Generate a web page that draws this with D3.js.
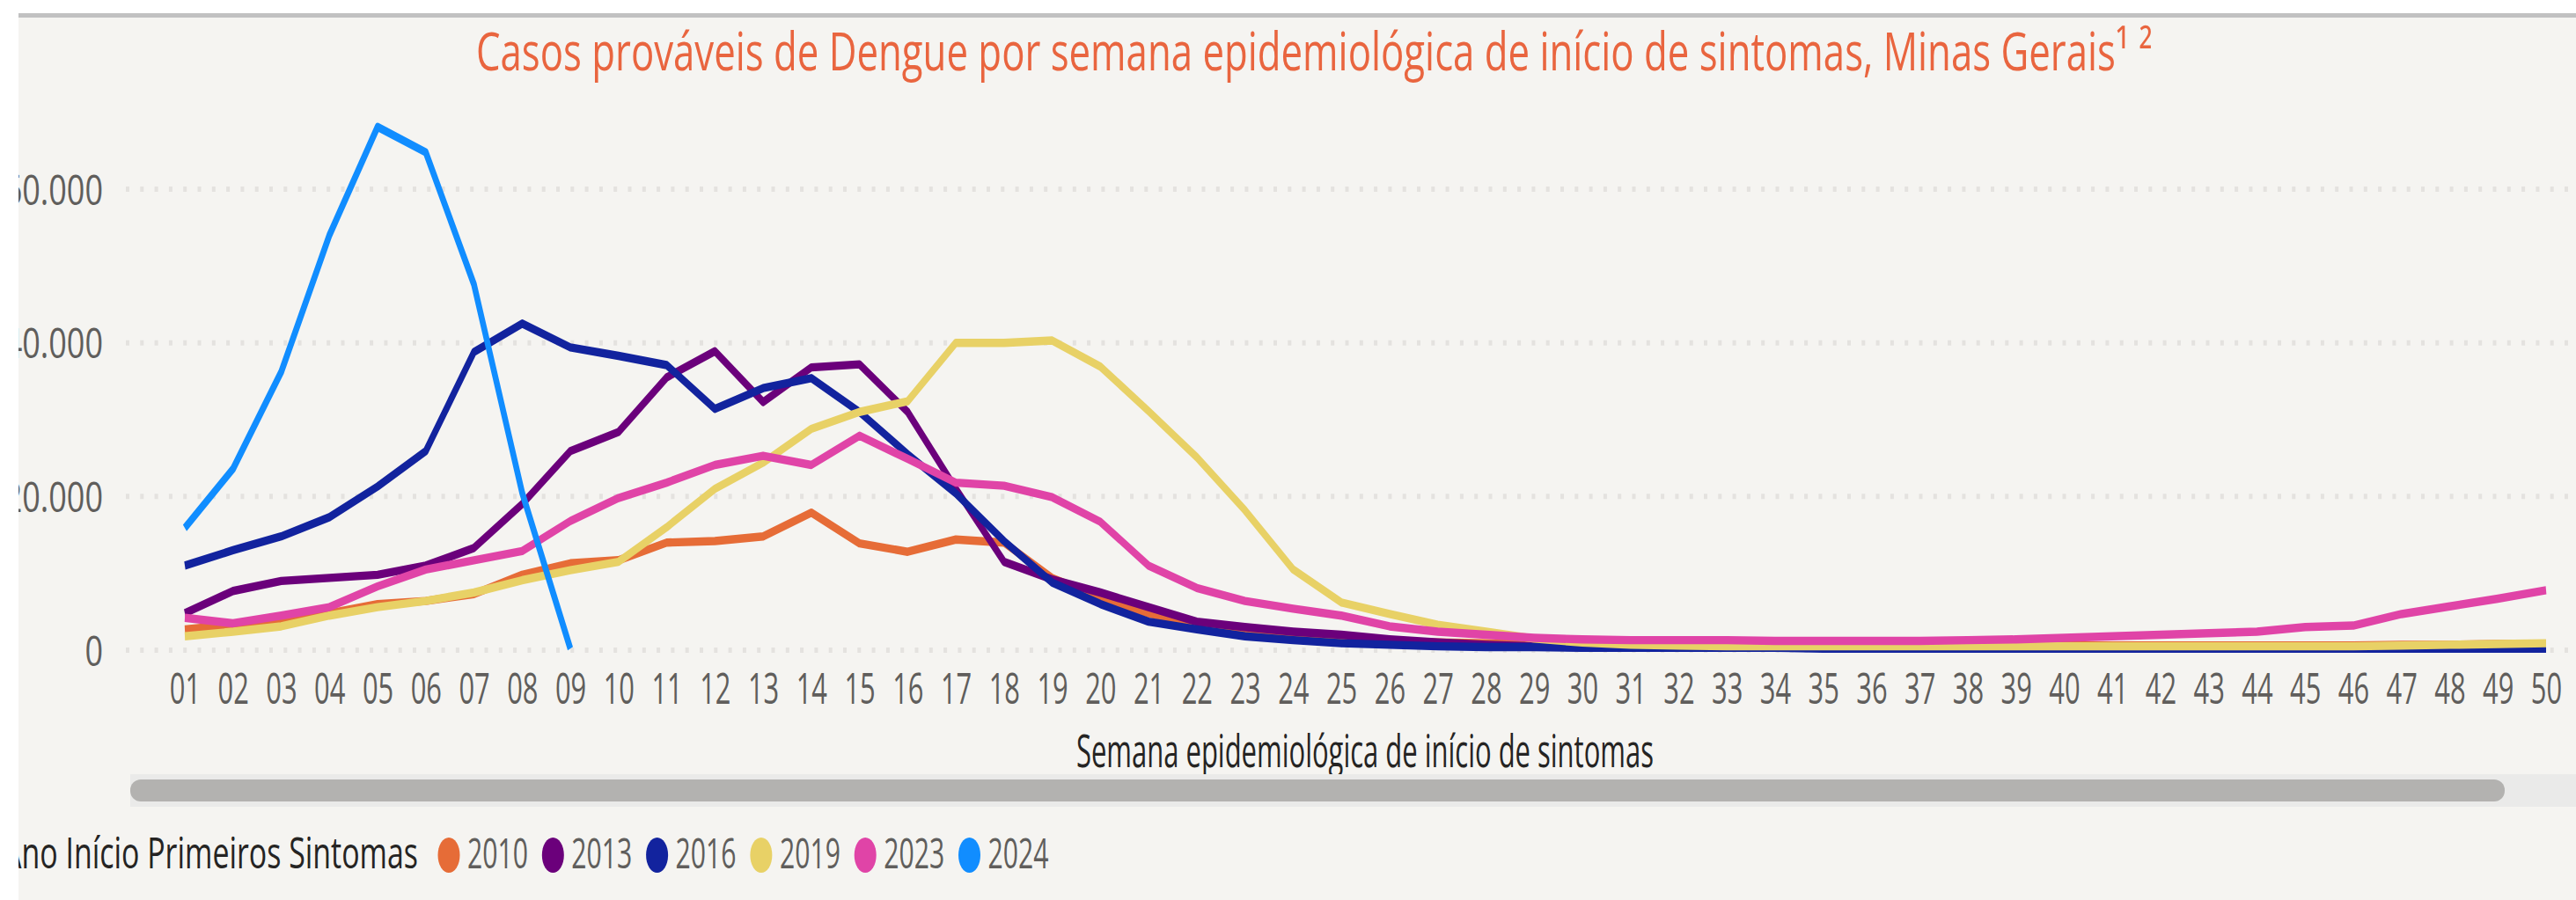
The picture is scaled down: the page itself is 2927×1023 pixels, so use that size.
<!DOCTYPE html>
<html>
<head>
<meta charset="utf-8">
<script src="https://cdn.jsdelivr.net/npm/d3@7"></script>
<style>
  html, body { margin: 0; padding: 0; background: #fff; overflow: hidden; }
  text { font-family: "Open Sans", "Noto Sans", sans-serif; }
</style>
</head>
<body>
<div id="chart-area"></div>
<script>
// Data
let weeks = ['01','02','03','04','05','06','07','08','09','10',
  '11','12','13','14','15','16','17','18','19','20',
  '21','22','23','24','25','26','27','28','29','30',
  '31','32','33','34','35','36','37','38','39','40',
  '41','42','43','44','45','46','47','48','49','50'];

let yTicks = [0, 20000, 40000, 60000];

let years = ['2010', '2013', '2016', '2019', '2023', '2024'];
let colors = ['#E66C37', '#6B007B', '#12239E', '#E8D166', '#E044A7', '#118DFF'];

let cases2010 = [2700, 3300, 3900, 4800, 6000, 6400, 7300, 9800, 11300, 11700,
  14000, 14200, 14800, 17900, 13900, 12800, 14400, 14000, 9400, 6800,
  4800, 3300, 2300, 1700, 1300, 1100, 1000, 900, 800, 700,
  700, 600, 600, 600, 600, 600, 600, 600, 600, 600,
  600, 600, 600, 600, 600, 600, 700, 700, 800, 800];
let cases2013 = [4800, 7700, 9000, 9400, 9800, 11000, 13300, 19000, 25900, 28400,
  35500, 38900, 32300, 36800, 37200, 31000, 21000, 11500, 9200, 7500,
  5600, 3700, 3000, 2400, 2000, 1400, 1000, 700, 500, 400,
  300, 300, 300, 300, 300, 300, 300, 300, 300, 300,
  300, 300, 300, 300, 300, 300, 300, 300, 300, 300];
let cases2016 = [11000, 13000, 14800, 17300, 21300, 25900, 38800, 42500, 39400, 38300,
  37100, 31400, 34100, 35400, 31000, 25500, 20400, 14200, 8800, 6000,
  3700, 2700, 1800, 1300, 900, 700, 500, 400, 400, 300,
  300, 300, 300, 300, 200, 200, 200, 200, 200, 200,
  200, 200, 200, 200, 200, 200, 200, 200, 200, 200];
let cases2019 = [1800, 2400, 3100, 4500, 5600, 6400, 7500, 9100, 10400, 11500,
  16000, 21000, 24400, 28800, 31000, 32400, 40000, 40000, 40300, 36900,
  31100, 25100, 18200, 10500, 6200, 4700, 3300, 2400, 1500, 1000,
  700, 600, 500, 500, 500, 500, 500, 500, 500, 500,
  500, 500, 500, 500, 500, 500, 600, 700, 800, 900];
let cases2023 = [4200, 3500, 4500, 5600, 8300, 10500, 11700, 12900, 16800, 19800,
  21800, 24100, 25300, 24100, 27900, 24900, 21800, 21400, 19900, 16700,
  11000, 8100, 6400, 5400, 4500, 3100, 2400, 2000, 1600, 1400,
  1300, 1300, 1300, 1200, 1200, 1200, 1200, 1300, 1400, 1600,
  1800, 2000, 2200, 2400, 3000, 3200, 4700, 5700, 6700, 7800];
let cases2024 = [15900, 23600, 36200, 54000, 68100, 64800, 47600, 20500, 200];

let seriesValues = [cases2010, cases2013, cases2016, cases2019, cases2023, cases2024];

// SVG drawing area
let W = 2927, H = 1023;
let stretch = 1.45; // the original picture is stretched vertically

let svg = d3.select('#chart-area')
  .append('svg')
  .attr('width', W)
  .attr('height', H);

svg.append('defs').append('clipPath').attr('id', 'panel')
  .append('rect').attr('x', 21).attr('y', 20).attr('width', W - 21).attr('height', H - 20);

svg.append('rect').attr('x', 21).attr('y', 20).attr('width', W - 21).attr('height', H - 20).attr('fill', '#F5F4F1');
svg.append('rect').attr('x', 21).attr('y', 15).attr('width', W - 21).attr('height', 5).attr('fill', '#C1C1C1');

// squeeze a text horizontally so it spans `width` px starting at x
function fitText(sel, x, y, width) {
  sel.each(function() {
    let len = this.getComputedTextLength();
    d3.select(this)
      .attr('x', 0)
      .attr('y', 0)
      .attr('transform', 'translate(' + x + ',' + y + ') scale(' + (width / len) + ',1)');
  });
}

// Title
svg.append('text')
  .attr('font-size', 60)
  .attr('fill', '#E9653F')
  .text('Casos prováveis de Dengue por semana epidemiológica de início de sintomas, Minas Gerais¹ ²')
  .call(fitText, 541, 80, 1905);

let g = svg.append('g').attr('clip-path', 'url(#panel)');

// Scales
let x = d3.scalePoint().domain(weeks).range([210, 2893]);
let y = d3.scaleLinear().domain([0, 60000]).range([739, 215]);

let ptBR = d3.formatLocale({ decimal: ',', thousands: '.', grouping: [3], currency: ['R$', ''] });
let fmt = ptBR.format(',');

// Gridlines
g.append('g').selectAll('line')
  .data(yTicks)
  .enter()
  .append('line')
  .attr('x1', 143)
  .attr('x2', W)
  .attr('y1', d => y(d))
  .attr('y2', d => y(d))
  .attr('stroke', '#E4E2DF')
  .attr('stroke-width', 6)
  .attr('stroke-dasharray', '4,12.3');

// Axis
let yAxis = d3.axisLeft(y).tickValues(yTicks).tickFormat(fmt).tickSize(0).tickPadding(0);
let ySvg = g.append('g').attr('transform', 'translate(117,0)').call(yAxis);
ySvg.select('.domain').remove();
ySvg.selectAll('text')
  .attr('font-size', 48)
  .attr('font-family', null)
  .attr('fill', '#605E5C')
  .attr('dy', '0.36em')
  .attr('transform', 'scale(0.75,1)');

let xAxis = d3.axisBottom(x).tickSize(0).tickPadding(0);
let xSvg = g.append('g').attr('transform', 'translate(0,782)').call(xAxis);
xSvg.select('.domain').remove();
xSvg.selectAll('text')
  .attr('y', 0)
  .attr('dy', '0.36em')
  .attr('font-size', 49)
  .attr('font-family', null)
  .attr('fill', '#605E5C')
  .attr('transform', 'scale(0.63,1)');

g.append('text')
  .attr('font-size', 51)
  .attr('fill', '#252423')
  .text('Semana epidemiológica de início de sintomas')
  .call(fitText, 1223, 872, 656);

// Lines (drawn in a vertically squeezed frame, then stretched back)
let line = d3.line()
  .x((d, i) => x(weeks[i]))
  .y(d => y(d) / stretch);

g.append('g')
  .attr('transform', 'scale(1,' + stretch + ')')
  .selectAll('path')
  .data(seriesValues)
  .enter()
  .append('path')
  .attr('d', d => line(d))
  .attr('fill', 'none')
  .attr('stroke', (d, i) => colors[i])
  .attr('stroke-width', 6.5)
  .attr('stroke-linejoin', 'round');

// Scrollbar
g.append('rect').attr('x', 148).attr('y', 880).attr('width', W - 148).attr('height', 37).attr('fill', '#EAEAE9');
g.append('rect').attr('x', 148).attr('y', 886).attr('width', 2698).attr('height', 25).attr('rx', 12).attr('fill', '#B3B2B0');

// Legend
g.append('text')
  .attr('font-size', 49)
  .attr('fill', '#252423')
  .text('Ano Início Primeiros Sintomas')
  .call(fitText, 3, 987, 472);

let legend = g.append('g').selectAll('g')
  .data(years)
  .enter()
  .append('g')
  .attr('transform', (d, i) => 'translate(' + (510 + i * 118.3) + ',0)');

legend.append('ellipse')
  .attr('cx', 0)
  .attr('cy', 972)
  .attr('rx', 12.5)
  .attr('ry', 20)
  .attr('fill', (d, i) => colors[i]);

legend.append('text')
  .attr('font-size', 48)
  .attr('fill', '#605E5C')
  .text(d => d)
  .call(fitText, 21, 987, 69);
</script>
</body>
</html>
